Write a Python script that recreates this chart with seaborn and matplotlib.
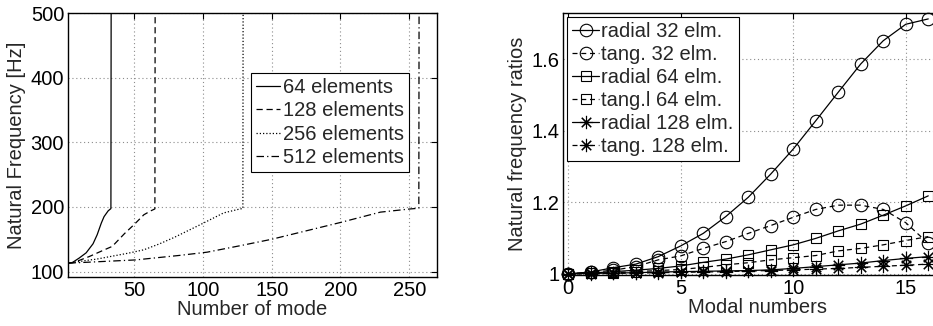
import numpy as np
import pandas as pd
import matplotlib
matplotlib.use("Agg")
import matplotlib.pyplot as plt
import seaborn as sns
from matplotlib.ticker import FormatStrFormatter

# ---- natural frequencies vs. mode number (left panel) ----
e64_modes = [2, 5, 10, 15, 20, 23, 26, 28, 31, 33, 34]
e64_freq = [113, 114, 121, 129, 143, 157, 175, 185, 194, 197.5, 2000]

e128_modes = [2, 6, 17, 27, 34, 43, 50, 57, 62, 65, 66]
e128_freq = [113, 114, 123, 132.5, 139, 159, 173, 188, 194, 197, 2000]

e256_modes = [2, 18, 22, 46, 57, 68, 79, 98, 115, 127, 129, 130]
e256_freq = [113, 118, 119, 128.6, 133.7, 142.6, 152.8, 172.6, 190.8, 197, 197.5, 2000]

e512_modes = [2, 12, 51, 83, 103, 127, 150, 200, 229, 251, 257, 258]
e512_freq = [113, 114, 118, 125, 130, 140, 150, 176, 192, 197, 198, 2000]

# ---- frequency ratios vs. modal number (right panel) ----
modal_numbers = list(range(17))
radial_32 = [1.000, 1.005, 1.017, 1.027, 1.048, 1.078, 1.113, 1.160, 1.214,
             1.279, 1.349, 1.428, 1.508, 1.587, 1.652, 1.698, 1.713]
tang_32 = [1.000, 1.004, 1.010, 1.020, 1.039, 1.050, 1.071, 1.090, 1.113,
           1.135, 1.158, 1.180, 1.192, 1.192, 1.180, 1.143, 1.085]
radial_64 = [1.000, 1.002, 1.006, 1.010, 1.015, 1.022, 1.032, 1.041, 1.053,
             1.067, 1.081, 1.099, 1.120, 1.139, 1.164, 1.190, 1.218]
tang_64 = [1.000, 1.001, 1.003, 1.006, 1.009, 1.012, 1.018, 1.025, 1.031,
           1.039, 1.045, 1.051, 1.064, 1.071, 1.081, 1.093, 1.104]
radial_128 = [1.000, 1.001, 1.002, 1.003, 1.005, 1.006, 1.007, 1.008, 1.009,
              1.011, 1.015, 1.020, 1.025, 1.030, 1.037, 1.043, 1.048]
tang_128 = [1.000, 1.000, 1.001, 1.002, 1.003, 1.004, 1.005, 1.006, 1.008,
            1.009, 1.011, 1.013, 1.015, 1.018, 1.021, 1.024, 1.027]

sns.set_style("white")
plt.rcParams["font.family"] = ["Liberation Sans", "DejaVu Sans"]
plt.rcParams["font.size"] = 14.5
plt.rcParams["axes.linewidth"] = 1.0

W, H = 933, 326
fig = plt.figure(figsize=(W / 100, H / 100), dpi=100)


def px_axes(x0, y0, x1, y1):
    return fig.add_axes([x0 / W, 1 - y1 / H, (x1 - x0) / W, (y1 - y0) / H])


def style_axes(ax):
    for s in ax.spines.values():
        s.set_color("black")
        s.set_linewidth(1.0)
    ax.tick_params(direction="in", top=True, right=True, length=4, width=0.8,
                   colors="black", labelsize=14.5, pad=3)
    ax.grid(True, linestyle=(0, (1, 2.5)), color="0.55", linewidth=0.8)
    ax.set_axisbelow(True)


# ---------------- left panel ----------------
axL = px_axes(68.3, 13.3, 436.7, 276.7)
left_series = [
    (e64_modes, e64_freq, "64 elements", "-"),
    (e128_modes, e128_freq, "128 elements", (0, (5, 3))),
    (e256_modes, e256_freq, "256 elements", (0, (1, 1.6))),
    (e512_modes, e512_freq, "512 elements", (0, (6, 2.5, 1, 2.5))),
]
for xs, ys, lab, ls in left_series:
    df = pd.DataFrame({"mode": xs, "freq": ys})
    sns.lineplot(data=df, x="mode", y="freq", ax=axL, estimator=None, sort=False,
                 color="black", linewidth=0.9, linestyle=ls, label=lab)
axL.set_xlim(2, 270)
axL.set_ylim(92, 500)
axL.set_xticks([50, 100, 150, 200, 250])
axL.set_yticks([100, 200, 300, 400, 500])
style_axes(axL)
axL.set_xlabel("Number of mode", labelpad=0)
axL.set_ylabel("Natural Frequency [Hz]", labelpad=3)
legL = axL.legend(loc="upper left", bbox_to_anchor=(0.495, 0.7745), borderaxespad=0,
                  fancybox=False, edgecolor="black", framealpha=1, handlelength=1.2,
                  handletextpad=0.15, labelspacing=0.22, borderpad=0.25, fontsize=14.5)
legL.get_frame().set_linewidth(0.8)

# ---------------- right panel ----------------
axR = px_axes(563.3, 13.3, 563.3 + 17.22 * 22.5, 275.0)
right_series = [
    (radial_32, "radial 32 elm.", "-", "o", 9),
    (tang_32, "tang. 32 elm.", (0, (4, 3)), "o", 9),
    (radial_64, "radial 64 elm.", "-", "s", 7.5),
    (tang_64, "tang.l 64 elm.", (0, (4, 3)), "s", 7.5),
    (radial_128, "radial 128 elm.", "-", (8, 2, 0), 9.5),
    (tang_128, "tang. 128 elm.", (0, (4, 3)), (8, 2, 0), 9.5),
]
for ys, lab, ls, mk, ms in right_series:
    df = pd.DataFrame({"k": modal_numbers, "ratio": ys})
    sns.lineplot(data=df, x="k", y="ratio", ax=axR, estimator=None, sort=False,
                 color="black", linewidth=0.9, linestyle=ls, marker=mk,
                 markersize=ms, markerfacecolor="none", markeredgecolor="black",
                 markeredgewidth=0.8, label=lab, clip_on=False)
axR.set_xlim(-0.22, 17)
axR.set_ylim(0.9966, 1.7287)
axR.set_xticks([0, 5, 10, 15])
axR.set_yticks([1.0, 1.2, 1.4, 1.6])
axR.yaxis.set_major_formatter(FormatStrFormatter("%g"))
style_axes(axR)
axR.set_xlabel("Modal numbers", labelpad=0)
axR.set_ylabel("Natural frequency ratios", labelpad=3)
legR = axR.legend(loc="upper left", bbox_to_anchor=(0.0103, 0.985), borderaxespad=0,
                  fancybox=False, edgecolor="black", framealpha=1, handlelength=1.33,
                  handletextpad=0.1, labelspacing=0.2, borderpad=0.25, fontsize=14.5)
legR.get_frame().set_linewidth(0.8)

fig.savefig("out.png", dpi=100)
